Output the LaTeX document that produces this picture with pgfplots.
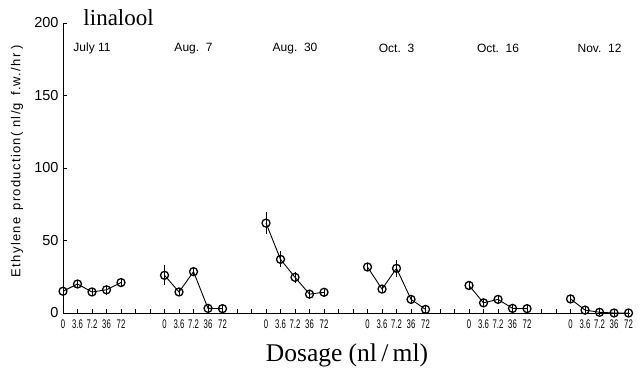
\documentclass[border=0pt]{standalone}
\usepackage{fontspec}
\setmainfont{Liberation Sans}
\newfontfamily\serif{Liberation Serif}
\newfontfamily\narrow[FakeStretch=0.62]{Liberation Sans}
\newfontfamily\spaced[LetterSpace=10]{Liberation Sans}
\usepackage{pgfplots}
\usepackage{pgfplotstable}
\pgfplotsset{compat=1.18}

\pgfplotstableread{
x y e
0 15 2.5
1 20 2.5
2 14.5 2.5
3 16 3.5
4 21 2.5
}\ga
\pgfplotstableread{
x y e
7 26 7
8 14.5 2.5
9 28.5 2.5
10 3.2 2.5
11 3 2.5
}\gb
\pgfplotstableread{
x y e
14 62 7.5
15 37 5.5
16 24.6 4
17 13 2.5
18 14.3 2.5
}\gc
\pgfplotstableread{
x y e
21 31.7 2.5
22 16.5 2.5
23 30.8 6
24 9.4 2.5
25 2.5 2
}\gd
\pgfplotstableread{
x y e
28 19 2.5
29 7 2.5
30 9.4 2.5
31 3.2 2.5
32 3 2.5
}\ge
\pgfplotstableread{
x y e
35 9.7 2.5
36 2 2
37 0.5 2
38 0 2
39 0 2
}\gf

\pgfplotsset{ser/.style={black, line width=0.9pt, mark=o, mark size=4pt,
     mark options={line width=1.3pt, fill=none},
     error bars/y dir=both, error bars/y explicit, error bars/error mark=none,
     error bars/error bar style={line width=0.9pt}}}
\tikzset{dt/.style={anchor=center, font=\fontsize{12}{12}\selectfont}}

\begin{document}
\begin{tikzpicture}
\begin{axis}[
  scale only axis, width=567pt, height=290pt,
  xmin=0, xmax=39.1, ymin=0, ymax=200,
  axis lines=left, axis line style={-, line width=0.9pt},
  clip=false,
  ytick={0,50,100,150,200},
  xtick={0,...,39},
  xticklabels={0,3.6,7.2,36,72,{},{},0,3.6,7.2,36,72,{},{},0,3.6,7.2,36,72,{},{},0,3.6,7.2,36,72,{},{},0,3.6,7.2,36,72,{},{},0,3.6,7.2,36,72},
  tick align=inside,
  major tick length=4pt,
  tick style={line width=0.8pt, black},
  /pgf/number format/assume math mode=true,
  yticklabel style={font=\fontsize{14.5}{14.5}\selectfont, xshift=-1pt},
  xticklabel style={font=\narrow\fontsize{12.5}{12.5}\selectfont, yshift=-3pt, inner xsep=0pt},
  ylabel={Ethylene\hspace{7pt}production\hspace{2pt}(\hspace{4pt}nl/g\hspace{7pt}f.w./hr\hspace{4pt})},
  ylabel style={font=\spaced\fontsize{13}{13}\selectfont, at={(rel axis cs:-0.081,0.524)}, anchor=center},
  xlabel={Dosage (nl\,/\,ml)},
  xlabel style={font=\serif\fontsize{25.5}{25.5}\selectfont, at={(rel axis cs:0.5009,0)}, anchor=center, yshift=-42pt},
]
\addplot[ser] table[x=x, y=y, y error=e] {\ga};
\addplot[ser] table[x=x, y=y, y error=e] {\gb};
\addplot[ser] table[x=x, y=y, y error=e] {\gc};
\addplot[ser] table[x=x, y=y, y error=e] {\gd};
\addplot[ser] table[x=x, y=y, y error=e] {\ge};
\addplot[ser] table[x=x, y=y, y error=e] {\gf};
\node[anchor=base west, font=\serif\fontsize{23}{23}\selectfont] at (axis cs:1.17,198) {linalool};
\node[dt] at (axis cs:2,182.5) {July 11};
\node[dt] at (axis cs:9,182.5) {Aug.~~7};
\node[dt] at (axis cs:16,182.5) {Aug.~~30};
\node[dt] at (axis cs:23,182.5) {Oct.~~3};
\node[dt] at (axis cs:30,182.5) {Oct.~~16};
\node[dt] at (axis cs:37,182.5) {Nov.~~12};
\end{axis}
\path[use as bounding box] (-63pt,-70pt) rectangle (580pt,313pt);
\end{tikzpicture}
\end{document}
